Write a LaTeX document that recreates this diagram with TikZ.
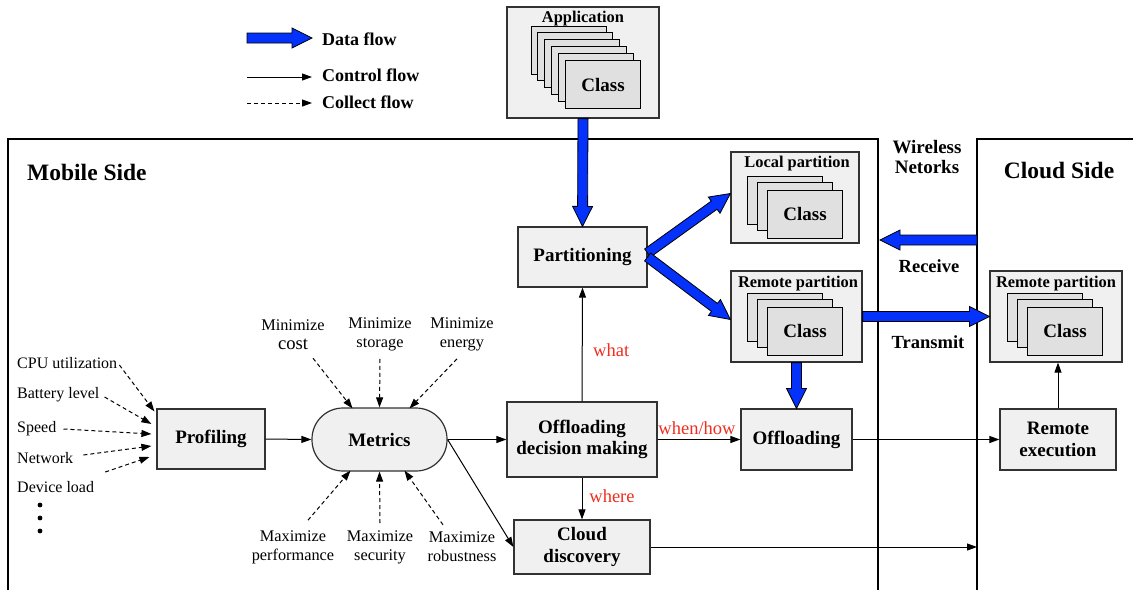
\documentclass[tikz,border=0pt]{standalone}
\usepackage{fontspec}
\setmainfont{Liberation Serif}
\usetikzlibrary{calc,arrows.meta}

\definecolor{flowblue}{RGB}{5,50,250}
\definecolor{boxfill}{RGB}{240,240,240}
\definecolor{cardfill}{RGB}{224,224,224}
\definecolor{boxline}{RGB}{50,50,50}
\definecolor{labelred}{RGB}{240,45,30}

\newcommand\fs[1]{\fontsize{#1}{#1}\selectfont}

% thick blue data-flow arrow between two points
\newcommand\fatarrow[2]{%
  \coordinate (fa-s) at (#1);
  \coordinate (fa-e) at (#2);
  \coordinate (fa-h) at ($(fa-e)!20pt!(fa-s)$);
  \filldraw[fill=flowblue, draw=black, line width=0.8pt, line join=miter]
    ($(fa-s)!5pt!90:(fa-e)$) -- ($(fa-h)!5pt!90:(fa-e)$) -- ($(fa-h)!10pt!90:(fa-e)$)
    -- (fa-e)
    -- ($(fa-h)!10pt!-90:(fa-e)$) -- ($(fa-h)!5pt!-90:(fa-e)$) -- ($(fa-s)!5pt!-90:(fa-e)$) -- cycle;}

\tikzset{
  box/.style={draw=boxline, line width=1.2pt, fill=boxfill, font=\fontsize{19}{21.5}\selectfont\bfseries,
    align=center, inner sep=0pt},
  holder/.style={draw=boxline, line width=1.2pt, fill=boxfill, inner sep=0pt},
  card/.style={draw=black, line width=1pt, fill=cardfill},
  frontcard/.style={card, minimum width=75pt, minimum height=48pt, inner sep=0pt,
    anchor=north west, font=\fs{19}\bfseries},
  title/.style={font=\fs{16.4}\bfseries, inner sep=0pt},
  ctrl/.style={line width=1pt, -{Triangle[length=10pt,width=7pt]}},
  collect/.style={ctrl, dash pattern=on 4pt off 3pt},
  frame/.style={line width=2.6pt},
  note/.style={font=\fontsize{16.3}{19}\selectfont, align=center, inner sep=0pt},
  input/.style={font=\fs{16}, inner sep=0pt, anchor=west},
  redlabel/.style={font=\fs{18.5}, text=labelred, inner sep=0pt},
  legend/.style={font=\fs{18}\bfseries, inner sep=0pt, anchor=west},
  side/.style={font=\fs{23.5}\bfseries, inner sep=0pt},
}

\begin{document}
\begin{tikzpicture}[x=1pt, y=-1pt]
\useasboundingbox (0,0) rectangle (1133,590);

% side frames
\draw[frame] (8,590) -- (8,139) -- (878,139) -- (878,590);
\draw[frame] (977,590) -- (977,139) -- (1133,139);
\node[side, anchor=west] (mobile) at (27,172) {Mobile Side};
\node[side] (cloudside) at (1059,170) {Cloud Side};
\node[font=\fontsize{19}{20}\selectfont\bfseries, align=center, inner sep=0pt] (wireless) at (927,157) {Wireless\\Netorks};

% legend
\coordinate (lgA) at (247,38);
\coordinate (lgB) at (247,77);
\coordinate (lgC) at (247,103);
\node[legend] (ldata) at (322,39) {Data flow};
\node[legend] (lctrl) at (322,75) {Control flow};
\node[legend] (lcoll) at (322,102) {Collect flow};
\fatarrow{lgA}{$(ldata.west)+(-10,-1)$}
\draw[ctrl] (lgB) -- ($(lctrl.west)+(-10,2)$);
\draw[collect] (lgC) -- ($(lcoll.west)+(-10,1)$);

% application with its classes
\node[holder, minimum width=152pt, minimum height=111pt] (app) at (583,62.5) {};
\node[title] (apptitle) at (583,18.5) {Application};
\foreach \i in {0,...,4} \draw[card] ({531+6.8*\i},{26+6.8*\i}) rectangle ++(75,48);
\node[frontcard] (appclass) at (565,60) {Class};

% local partition
\node[holder, minimum width=128pt, minimum height=91pt] (lp) at (795,197.5) {};
\node[title] (lptitle) at (797,163.5) {Local partition};
\foreach \i in {0,1} \draw[card] ({747+10*\i},{176+6.7*\i}) rectangle ++(75,48);
\node[frontcard] (lpclass) at (767,189.5) {Class};

% remote partition, mobile side
\node[holder, minimum width=131pt, minimum height=91pt] (rp) at (796.5,316.5) {};
\node[title] (rptitle) at (798,283.5) {Remote partition};
\foreach \i in {0,1} \draw[card] ({747+10*\i},{293+6.7*\i}) rectangle ++(75,48);
\node[frontcard] (rpclass) at (767,306.5) {Class};

% remote partition, cloud side
\node[holder, minimum width=132pt, minimum height=91pt] (crp) at (1056,316.5) {};
\node[title] (crptitle) at (1056,283.5) {Remote partition};
\foreach \i in {0,1} \draw[card] ({1007+10*\i},{293+6.7*\i}) rectangle ++(75,48);
\node[frontcard] (crpclass) at (1027,306.5) {Class};

% process boxes
\node[box, minimum width=129pt, minimum height=60pt] (part) at (582.5,257) {Partitioning};
\node[box, minimum width=150pt, minimum height=75pt] (odm) at (582,439.5) {Offloading\\decision making};
\node[box, minimum width=111pt, minimum height=61pt] (offl) at (796.5,439.5) {Offloading};
\node[box, minimum width=136pt, minimum height=54pt] (cloud) at (582,547) {Cloud\\discovery};
\node[box, minimum width=116pt, minimum height=61pt] (rexec) at (1058,439.5) {Remote\\execution};
\node[box, minimum width=108pt, minimum height=60pt] (prof) at (211,439) {Profiling};
\node[box, minimum width=135pt, minimum height=63pt, rounded corners=31pt] (metrics) at (379.5,439.5) {Metrics};

% data flow
\fatarrow{app.south}{part.north}
\fatarrow{$(part.east)+(0,-4)$}{$(lp.west)+(0,-4)$}
\fatarrow{part.east}{$(rp.west)+(0,3)$}
\fatarrow{rp.south}{offl.north}
\fatarrow{rp.east}{crp.west}
\coordinate (rxS) at (977,240);
\coordinate (rxE) at (880,240);
\fatarrow{rxS}{rxE}
\node[font=\fs{18.5}\bfseries, inner sep=0pt] (receive) at (929,266) {Receive};
\node[font=\fs{18.5}\bfseries, inner sep=0pt] (transmit) at (928,342) {Transmit};

% control flow
\draw[ctrl] (prof.east) -- (metrics.west);
\draw[ctrl] (metrics.east) -- (odm.west);
\draw[ctrl] (metrics.east) -- (cloud.west);
\draw[ctrl] (odm.north) -- (part.south);
\draw[ctrl] (odm.east) -- (offl.west);
\draw[ctrl] (odm.south) -- (cloud.north);
\draw[ctrl] (offl.east) -- (rexec.west);
\coordinate (cfin) at (977,547);
\draw[ctrl] (cloud.east) -- (cfin);
\draw[ctrl] (rexec.north) -- (rexec.north |- crp.south);
\node[redlabel, anchor=west] (what) at (593,350) {what};
\node[redlabel] (whenhow) at (697,428) {when/how};
\node[redlabel] (where) at (612,496) {where};

% profiling inputs
\node[input] (cpu) at (17,363) {CPU utilization};
\node[input] (bat) at (17,395) {Battery level};
\node[input] (spd) at (17,429) {Speed};
\node[input] (net) at (17,458) {Network};
\node[input] (dev) at (17,487) {Device load};
\foreach \y in {505,518,531} \fill (40,\y) circle (2.4pt);
\draw[collect] ($(cpu.east)+(2,2)$) -- ($(prof.north west)+(-2,3)$);
\draw[collect] ($(bat.east)+(5,2)$) -- ($(prof.west)+(-5,-15)$);
\draw[collect] ($(spd.east)+(7,0)$) -- ($(prof.west)+(-5,-5)$);
\draw[collect] ($(net.east)+(10,-3)$) -- ($(prof.west)+(-5,7)$);
\draw[collect] ($(dev.east)+(11,-15)$) -- ($(prof.west)+(-7,18)$);

% objectives around the metrics
\node[note] (mcost) at (293,335) {Minimize\\{\fs{18.6}cost}};
\node[note] (mstor) at (380,334) {Minimize\\storage};
\node[note] (menergy) at (462,334) {Minimize\\energy};
\node[note] (mperf) at (293,547) {Maximize\\performance};
\node[note] (msec) at (380,547) {Maximize\\security};
\node[note] (mrob) at (462,547) {Maximize\\robustness};
\draw[collect] ($(mcost.south)+(20,8)$) -- ($(metrics.north)+(-27,1)$);
\draw[collect] ($(mstor.south)+(0,8)$) -- (metrics.north);
\draw[collect] ($(menergy.south)+(-5,8)$) -- ($(metrics.north)+(30,1)$);
\draw[collect] ($(mperf.north)+(15,-10)$) -- ($(metrics.south)+(-29,-1)$);
\draw[collect] ($(msec.north)+(0,-7)$) -- (metrics.south);
\draw[collect] ($(mrob.north)+(-19,-7)$) -- ($(metrics.south)+(25,-1)$);
\end{tikzpicture}
\end{document}
